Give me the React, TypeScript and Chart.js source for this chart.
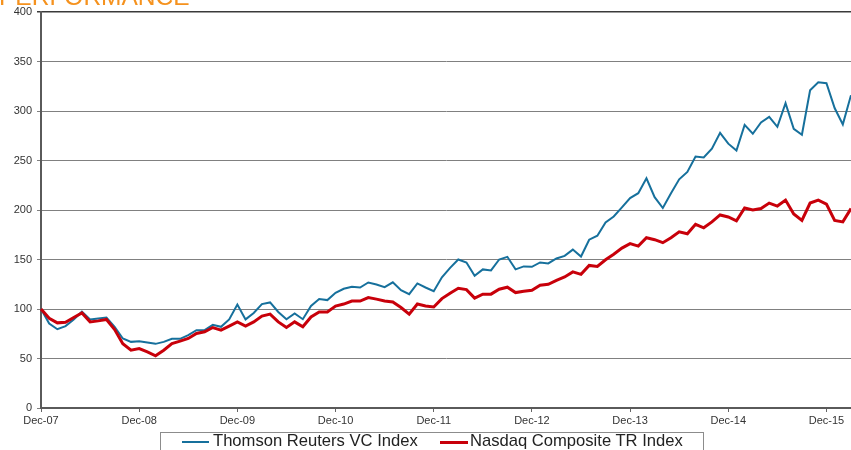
import React, { useEffect, useRef } from "react";
import { Chart, registerables } from "chart.js";

Chart.register(...registerables);

const FONT = 'Arial, "Liberation Sans", Helvetica, sans-serif';

const yearLabels = ["Dec-07", "Dec-08", "Dec-09", "Dec-10", "Dec-11", "Dec-12", "Dec-13", "Dec-14", "Dec-15"];
const monthNames = ["Dec", "Jan", "Feb", "Mar", "Apr", "May", "Jun", "Jul", "Aug", "Sep", "Oct", "Nov"];

const vcIndex = [
  100, 85.4, 79.6, 82.7, 89.4, 97.3, 89.4, 90.4, 91.4, 82, 70.2, 66.8,
  67.5, 66.2, 64.8, 66.8, 69.9, 69.9, 73.6, 78.6, 78.6, 84, 82, 89.4,
  104.5, 89.5, 96, 105, 106.6, 97, 89.7, 95.5, 89.7, 103, 110, 109,
  116.3, 120.4, 122.4, 121.7, 126.8, 124.7, 122, 127, 119, 115, 125.8, 121.7,
  118, 132, 141.5, 150, 147, 133.5, 140, 139, 150, 152.7, 140, 143,
  142.6, 147, 146, 151, 153.7, 160, 153, 170, 174, 187.5, 193.5, 202.7,
  212, 217, 232, 213, 202, 217, 231, 238.5, 254, 253, 262, 278,
  267, 260, 286, 277, 288.5, 294, 284, 308, 282, 276, 321, 329,
  328, 303, 286.5, 316,
];

const nasdaqIndex = [
  100, 90.6, 86, 86.5, 91.4, 96, 87, 88, 89.4, 79.3, 65, 58.4,
  60, 56.7, 52.7, 58.4, 65, 67.5, 70.2, 75.3, 77, 81.3, 78.6, 82.7,
  87, 82.7, 87, 92.8, 94.8, 87, 81.3, 87, 82, 92, 97, 97,
  103, 105, 108, 108, 111.6, 110, 108, 107, 101.5, 94.8, 105, 103,
  102, 110.5, 116, 121, 119.6, 111, 115, 115, 120, 122, 116.6, 118,
  119, 124, 125, 129, 132.4, 137.5, 135, 144, 143, 149.7, 155.4, 161.5,
  166, 163.5, 172, 170, 167, 172, 178, 176, 185.5, 182, 188, 195,
  193, 189, 202, 200, 201.5, 207, 204, 210, 196, 189.5, 207, 210,
  206, 189.5, 188, 201.5,
];

const categories: string[] = vcIndex.map((_, i) => {
  const yr = 7 + Math.floor((i + 11) / 12);
  return monthNames[i % 12] + "-" + String(yr).padStart(2, "0");
});

const BLUE = "#16709c";
const RED = "#c8000a";

export default function App() {
  const ref = useRef<HTMLCanvasElement | null>(null);

  useEffect(() => {
    if (!ref.current) return;
    const chart = new Chart(ref.current, {
      type: "line",
      data: {
        labels: categories,
        datasets: [
          {
            label: "Nasdaq Composite TR Index",
            data: nasdaqIndex,
            borderColor: RED,
            backgroundColor: RED,
            borderWidth: 3,
            pointRadius: 0,
            tension: 0,
            order: 0,
          },
          {
            label: "Thomson Reuters VC Index",
            data: vcIndex,
            borderColor: BLUE,
            backgroundColor: BLUE,
            borderWidth: 2,
            pointRadius: 0,
            tension: 0,
            order: 1,
          },
        ],
      },
      options: {
        responsive: false,
        animation: false,
        layout: { padding: { top: 12, right: 0, left: 0, bottom: 0 } },
        plugins: { legend: { display: false }, tooltip: { enabled: false }, title: { display: false } },
        scales: {
          x: {
            type: "category",
            offset: false,
            grid: {
              display: true,
              drawOnChartArea: false,
              drawTicks: true,
              tickLength: 4,
              color: "#666",
              lineWidth: 1,
            },
            border: { display: true, color: "#5a5a5a", width: 2 },
            ticks: {
              autoSkip: false,
              maxRotation: 0,
              minRotation: 0,
              padding: 2,
              color: "#333",
              font: { family: FONT, size: 11 },
              callback: (_v: any, index: number) => (index % 12 === 0 ? yearLabels[index / 12] : null),
            },
            afterFit: (s: any) => {
              s.height = 42;
            },
          },
          y: {
            min: 0,
            max: 400,
            ticks: {
              stepSize: 50,
              padding: 5,
              color: "#333",
              font: { family: FONT, size: 11 },
            },
            grid: {
              color: (ctx: any) => (ctx.tick && ctx.tick.value === 400 ? "#3a3a3a" : "#808080"),
              lineWidth: (ctx: any) => (ctx.tick && ctx.tick.value === 400 ? 1.5 : 1),
              tickLength: 4,
              drawTicks: true,
            },
            border: { display: true, color: "#5a5a5a", width: 2 },
            afterFit: (s: any) => {
              s.width = 41;
            },
          },
        },
      },
    } as any);
    return () => chart.destroy();
  }, []);

  return (
    <div
      style={{
        position: "absolute",
        left: 0,
        top: 0,
        width: 851,
        height: 450,
        overflow: "hidden",
        background: "#fff",
        fontFamily: FONT,
      }}
    >
      <canvas ref={ref} width={851} height={450} style={{ position: "absolute", left: 0, top: 0, width: 851, height: 450 }} />
      <div
        style={{
          position: "absolute",
          left: -1,
          top: -15,
          fontSize: 24.5,
          lineHeight: "24px",
          color: "#f5921e",
          whiteSpace: "nowrap",
        }}
      >
        PERFORMANCE
      </div>
      <div
        style={{
          position: "absolute",
          left: 160,
          top: 432,
          width: 542,
          height: 30,
          border: "1px solid #8c8c8c",
          background: "#fff",
        }}
      />
      <div style={{ position: "absolute", left: 182, top: 441, width: 27, height: 2, background: BLUE }} />
      <div
        style={{ position: "absolute", left: 213, top: 433, fontSize: 16.6, lineHeight: "16px", color: "#222", whiteSpace: "nowrap" }}
      >
        Thomson Reuters VC Index
      </div>
      <div style={{ position: "absolute", left: 440, top: 441, width: 28, height: 3, background: RED }} />
      <div
        style={{ position: "absolute", left: 470, top: 433, fontSize: 16.6, lineHeight: "16px", color: "#222", whiteSpace: "nowrap" }}
      >
        Nasdaq Composite TR Index
      </div>
    </div>
  );
}
